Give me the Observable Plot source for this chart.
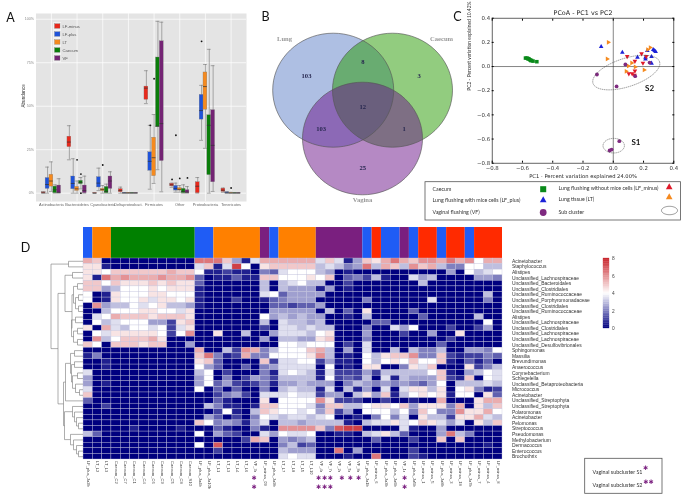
<!DOCTYPE html>
<html>
<head>
<meta charset="utf-8">
<script src="https://cdn.jsdelivr.net/npm/d3@7"></script>
<script src="https://cdn.jsdelivr.net/npm/@observablehq/plot@0.6"></script>
<style>
html,body{margin:0;padding:0;background:#fff;}
#root{position:relative;width:685px;height:502px;overflow:hidden;filter:blur(0.3px);}
#root svg{position:absolute;overflow:visible;background:transparent;}
</style>
</head>
<body>
<div id="root"></div>
<script>
// ---------- Panel A: box plots ----------
const boxGroups = ["LF-minus","LF-plus","LT","Caecum","VF"];
const boxColors = ["#e8291c","#1f53d9","#f58a1f","#0a7d0a","#742474"];
const phyla = ["Actinobacteria","Bacteroidetes","Cyanobacteria","Deltaproteobact.","Firmicutes","Other","Proteobacteria","Tenericutes"];
// each row: [low whisker, q1, median, q3, high whisker], one row per group
const actinobacteria = [[0,0,0.2,0.5,0.8],[0,2.5,5,8.7,15],[1,3.8,7,10.6,18],[0,0,2,3.8,4.8],[0,0,0.5,4.4,8.3]];
const bacteroidetes = [[19.2,26.5,29.4,32.5,38.8],[0,2.3,5.6,9.6,19.8],[0,1.3,2.5,3.6,7],[2.5,5.2,6.2,7.1,9],[0,0,1.5,4.4,9.8]];
const cyanobacteria = [[0,0,0,0.2,0.3],[1.5,3.3,5.8,9.2,14.4],[0,1.2,2.1,2.5,4.4],[0,0,1,3.6,5.2],[0,2.5,7,9.6,12.3]];
const deltaproteobact = [[0,0.6,1.5,2.3,3.5],[0,0,0.1,0.2,0.4],[0,0,0.1,0.2,0.4],[0,0,0.1,0.2,0.3],[0,0,0.1,0.2,0.3]];
const firmicutes = [[51.5,53.7,60.4,61.3,70.4],[2.3,12.9,18.3,23.5,39],[5.6,9.8,20.4,31.9,45.2],[13.5,38,38.5,78,98.8],[0.8,18.5,40,87.3,98.3]];
const other = [[3.4,4,4.8,5.4,5.8],[0.6,1.5,2.8,4.2,5.8],[0.6,1.5,2.2,2.9,4.4],[0,0,1,2.5,4.8],[0,0,0.6,1.7,3.8]];
const proteobacteria = [[0,0,4,6.3,9],[30.4,42.3,47.5,56.5,62],[25.8,48,61.3,69.4,74],[0,10.4,39,44.8,82.7],[1,6.3,27.5,47.7,73.3]];
const tenericutes = [[0.5,0.8,1.7,2.6,3],[0,0,0.2,0.5,0.8],[0,0,0.1,0.3,0.5],[0,0,0.1,0.2,0.3],[0,0,0.1,0.2,0.3]];
const boxValues = [actinobacteria,bacteroidetes,cyanobacteria,deltaproteobact,firmicutes,other,proteobacteria,tenericutes];
// [phylum index, group index, value]
const boxOutliers = [[1,2,19.2],[1,3,11],[1,3,0],[2,2,16.2],[4,1,39],[4,2,65.8],[5,0,7.9],[5,1,33.3],[5,2,8.5],[5,4,8.8],[6,1,87.3],[7,2,3]];
const yPercentTicks = [0,25,50,75,100];

// ---------- Panel B: Venn ----------
const vennSets = ["Lung","Caecum","Vagina"];
const vennCounts = ["103","8","3","12","103","1","25"];

// ---------- Panel C: PCoA ----------
const caecumPts = [[-.58,.07],[-.57,.07],[-.565,.065],[-.56,.065],[-.555,.06],[-.55,.055],[-.545,.05],[-.54,.05],[-.53,.045],[-.505,.04]];
const lfPlusPts = [[-.08,.168],[.06,.12],[.16,.08],[.213,.066],[.264,.143],[.273,.135],[.28,.127],[.253,.085],[.253,.03],[.213,.08],[.225,.135]];
const ltPts = [[-.03,.2],[-.037,.063],[.247,.157],[.088,-.04],[.103,.005],[.125,.03],[.148,-.003],[.207,-.028],[.23,.14]];
const lfMinusPts = [[.092,.08],[.143,.04],[.187,.102],[.218,.08],[.196,.025],[.143,-.04],[.125,-.063],[.14,-.075],[.103,-.063]];
const vfPts = [[-.108,-.066],[.022,-.165],[.08,.017],[.145,-.08],[.24,.033],[.04,-.618],[-.024,-.695],[-.011,-.687]];
const pcTicks = [-.8,-.6,-.4,-.2,0,.2,.4];

// ---------- Panel D: heat map ----------
const rowLabels = ["Acinetobacter","Staphylococcus","Alistipes","Unclassified_Lachnospiraceae","Unclassified_Bacteroidales","Unclassified_Clostridiales","Unclassified_Ruminococcaceae","Unclassified_Porphyromonadaceae","Unclassified_Clostridiales","Unclassified_Ruminococcaceae","Alistipes","Unclassified_Lachnospiraceae","Unclassified_Clostridiales","Unclassified_Lachnospiraceae","Unclassified_Lachnospiraceae","Unclassified_Desulfovibrionales","Sphingomonas","Massilia","Brevundimonas","Anaerococcus","Corynebacterium","Schlegelella","Unclassified_Betaproteobacteria","Micrococcus","Acinetobacter","Unclassified_Streptophyta","Unclassified_Streptophyta","Polaromonas","Acinetobacter","Pelomonas","Streptococcus","Pseudomonas","Methylobacterium","Dermacoccus","Enterococcus","Brochothrix"];
const colLabels = ["LF_plus_Ja2b","LT_L2","LT_L3","Caecum_C2","Caecum_C7","Caecum_C1","Caecum_C4","Caecum_C6","Caecum_C9","Caecum_C5","Caecum_C8","Caecum_S10","LF_plus_Ja4b","LF_plus_Ja10b","LT_L1","LT_L3","LT_L4","LT_L6","VF_3r","LF_minus_09","LF_plus_Ja9b","LT_L7","LT_L8","LT_L5","LT_L10","VF_4r","VF_7r","VF_2r","VF_5r","VF_8r","LF_plus_Ja1b","LF_minus_6","LF_plus_Ja3b","LF_plus_Ja6b","VF_1r","LF_plus_Ja5b","LF_minus_1","LF_minus_5","LF_plus_Ja8b","LF_minus_3","LF_minus_18","LF_plus_Ja7b","LF_minus_7","LF_minus_4","LF_minus_8"];
const groupRuns = [["LF_plus",1],["LT",2],["Caecum",9],["LF_plus",2],["LT",5],["VF",1],["LF_plus",1],["LT",4],["VF",5],["LF_plus",1],["LF_minus",1],["LF_plus",2],["VF",1],["LF_plus",1],["LF_minus",2],["LF_plus",1],["LF_minus",2],["LF_plus",1],["LF_minus",3]];
const groupDomain = ["LF_plus","LT","Caecum","VF","LF_minus"];
const groupRange = ["#1f5cf5","#ff8000","#008000","#7a1f7f","#ff2a00"];
// one character per column, half units: 0=0 ... 8=4 ... g=8
const heatRows = [
"ba0 000000000 ddda517 bb bbbb 7a715 a9bdbaccbdbc8bb",
"991 000000000 7a17f80 9a aaaa 67645 d6ba6cab6448866",
"998 aaaaaabaa 8112110 43 7888 65010 000000000508678",
"91d bcbbbcbbc 3011311 aa 8889 8a034 261007560000554",
"aa8 a999a9a99 3000000 60 6786 60020 000000600000000",
"aa5 688898999 1000000 60 6555 15010 000000000000000",
"801 988899888 1000000 78 3555 50000 000000000000060",
"801 988979989 1000200 13 4555 00000 400000070000040",
"0c5 668789665 1000000 03 3233 50000 000000000000000",
"006 888998879 0000000 05 5555 06030 900003000000000",
"078 baaa9aaa9 0000000 85 6565 50010 600000300000600",
"086 78885529a 0000000 60 7665 60000 033000000000080",
"90b 768878279 0000000 20 7767 66000 400758000200250",
"087 99999828c 0090060 05 7776 89000 500020050090000",
"0c6 8aaab9000 0000000 50 6655 9a000 400000000200000",
"a80 aaa9aa005 0000000 00 8878 88020 700000003000000",
"000 000000000 b0062cb 46 888a b6050 700606446005548",
"140 000000000 ad412b4 48 8889 c6010 869aac44a212243",
"001 000000000 9a30000 a2 7788 25110 86898a88a103130",
"001 000000000 8530030 45 7777 08010 9900497a0009246",
"700 000000000 6802000 41 7876 17222 52666668a105687",
"500 000000000 5804025 42 6666 18232 60716555a21a087",
"501 000000000 5835212 41 5565 55046 545454358066676",
"700 000000000 8030300 40 6766 17061 507079969089412",
"a00 000000000 0024520 77 7877 25506 95a168989188093",
"300 000000000 0031000 90 8888 c9222 00200100b0009bb",
"002 000000000 0641101 aa 8887 4aa66 8998a59994b096a",
"000 000000000 0028106 a9 8878 5a250 888684a844c99b8",
"000 000000000 0530204 87 6776 78001 048470966299b76",
"000 000000000 a845415 70 6656 66610 677978a9757096a",
"000 001000010 0031004 10 cccc a4eff 000071005000000",
"630 000000000 8053200 75 8778 00110 679630005d64000",
"000 000000000 000002b a0 5456 00000 03000200a0a0000",
"000 000000000 80e0000 00 4623 00000 000000000000010",
"000 000000000 0020000 00 6555 00d05 000002000000000",
"000 000000000 0000000 00 7877 00010 0d0002100000000"
];
// dendrogram: [merge position, child, child]; a number is a row index
const dendrogram = [50.5,
  [68,0,1],
  [57.5,
    [64.5,
      [72,2,3],
      [71.5,
        [73,[77,4,5],[75,[78,6,7],[78,8,9]]],
        [71,[75,10,11],[73,[77,12,13],[77,14,15]]]
      ]
    ],
    [63,
      [65,
        [70,[74,16,17],[71,[74,18,19],[72,[77,20,21],[75,22,[79,23,24]]]]],
        25
      ],
      [64,
        [72,26,[74,27,[76,28,[78,29,30]]]],
        [70,31,[73,32,[76,33,[78,34,35]]]]
      ]
    ]
  ]
];
// star columns (fractional column position) and row of stars
const stars = [[18.33,0],[18.33,1],[25.24,0],[25.9,0],[26.5,0],[27.75,0],[28.65,0],[29.54,0],[25.24,1],[25.9,1],[26.5,1],[34.48,0],[34.48,1]];
const colorTicks = [0,2,4,6,8];

// ---------- helpers ----------
const root = document.getElementById("root");
function place(svg,left,top){svg.style.left=left+"px";svg.style.top=top+"px";root.appendChild(svg);}
const SANS="'Liberation Sans',Arial,sans-serif", LATO="Lato,sans-serif", DEJA="'DejaVu Sans',sans-serif", SERIF="'Liberation Serif',serif";
function polySymbol(pts){return {draw(c){pts.forEach((p,i)=>i?c.lineTo(p[0],p[1]):c.moveTo(p[0],p[1]));c.closePath();}};}
function ellipseSymbol(rx,ry,deg){const t=deg*Math.PI/180;const pts=d3.range(0,72).map(i=>{const a=i/72*2*Math.PI;const x=rx*Math.cos(a),y=ry*Math.sin(a);return [x*Math.cos(t)-y*Math.sin(t),x*Math.sin(t)+y*Math.cos(t)];});return polySymbol(pts);}
const triUp=s=>polySymbol([[0,-s],[s,s*.8],[-s,s*.8]]);
const triDown=s=>polySymbol([[0,s],[s,-s*.8],[-s,-s*.8]]);
const triRight=s=>polySymbol([[s,0],[-s*.8,s],[-s*.8,-s]]);

// ---------- Panel A ----------
const boxRows = boxValues.flatMap((rows,p)=>rows.map((v,g)=>({p,g,lo:v[0],q1:v[1],med:v[2],q3:v[3],hi:v[4]})));
const off = g => (g-2)*0.15;
const hw = 0.075;
const outlierRows = boxOutliers.map(([p,g,v])=>({p,g,v}));
place(Plot.plot({
  width:250,height:210,marginLeft:35.5,marginRight:4,marginTop:13,marginBottom:9,
  style:{fontFamily:SANS},
  x:{domain:[-0.6,7.6],axis:null},
  y:{domain:[-4.77,103.3],axis:null},
  color:{domain:boxGroups,range:boxColors},
  marks:[
    Plot.frame({fill:"#e4e4e4",stroke:null}),
    Plot.ruleY(yPercentTicks,{stroke:"#fff",strokeWidth:.7}),
    Plot.ruleX(d3.range(phyla.length),{stroke:"#fff",strokeWidth:.7}),
    Plot.ruleX(boxRows,{x:d=>d.p+off(d.g),y1:"lo",y2:"hi",stroke:"#777",strokeWidth:.6}),
    Plot.ruleY(boxRows,{y:"hi",x1:d=>d.p+off(d.g)-hw,x2:d=>d.p+off(d.g)+hw,stroke:"#777",strokeWidth:.6}),
    Plot.ruleY(boxRows,{y:"lo",x1:d=>d.p+off(d.g)-hw,x2:d=>d.p+off(d.g)+hw,stroke:"#777",strokeWidth:.6}),
    Plot.rect(boxRows,{x1:d=>d.p+off(d.g)-hw,x2:d=>d.p+off(d.g)+hw,y1:"q1",y2:"q3",fill:d=>boxGroups[d.g],stroke:"#777",strokeWidth:.3}),
    Plot.ruleY(boxRows,{y:"med",x1:d=>d.p+off(d.g)-hw,x2:d=>d.p+off(d.g)+hw,stroke:"#333",strokeWidth:.7}),
    Plot.dot(outlierRows,{x:d=>d.p+off(d.g),y:"v",r:.9,fill:"#111"}),
    Plot.axisX({anchor:"bottom",ticks:d3.range(phyla.length),tickFormat:i=>phyla[i],tickSize:0,tickPadding:2,fontSize:3.9,fill:"#666",label:null}),
    Plot.axisY({anchor:"left",ticks:yPercentTicks,tickFormat:d=>d+"%",tickSize:0,tickPadding:2,fontSize:3.6,fill:"#888",label:null}),
    Plot.text(["Abundance"],{frameAnchor:"left",dx:-12,rotate:-90,fontSize:4.6,fill:"#333"})
  ]
}),0,0);

// ---------- Panel C ----------
const xy = a => a.map(([x,y])=>({x,y}));
place(Plot.plot({
  width:255,height:182,marginLeft:61.7,marginRight:11.7,marginTop:17.7,marginBottom:19.3,
  style:{fontFamily:DEJA},
  x:{domain:[-.8,.4],axis:null},
  y:{domain:[-.8,.4],axis:null},
  marks:[
    Plot.ruleX([0],{stroke:"#333",strokeWidth:.6}),
    Plot.ruleY([0],{stroke:"#333",strokeWidth:.6}),
    Plot.frame({stroke:"#222",strokeWidth:.7}),
    Plot.axisX({anchor:"bottom",ticks:pcTicks,tickFormat:d3.format(".1f"),tickSize:-2,tickPadding:5,fontSize:5.4,fill:"#333",label:null}),
    Plot.axisY({anchor:"left",ticks:pcTicks,tickFormat:d3.format(".1f"),tickSize:-2,tickPadding:4,fontSize:5.4,fill:"#333",label:null}),
    Plot.axisX({anchor:"top",ticks:pcTicks,tickFormat:()=>"",tickSize:-2,label:null}),
    Plot.axisY({anchor:"right",ticks:pcTicks,tickFormat:()=>"",tickSize:-2,label:null}),
    Plot.dot(xy(caecumPts),{x:"x",y:"y",symbol:"square",r:2,fill:"#0a8a1a"}),
    Plot.dot(xy(lfPlusPts),{x:"x",y:"y",symbol:triUp(2.3),fill:"#1c22d8"}),
    Plot.dot(xy(ltPts),{x:"x",y:"y",symbol:triRight(2.3),fill:"#f58a1f"}),
    Plot.dot(xy(lfMinusPts),{x:"x",y:"y",symbol:triDown(2.3),fill:"#e01a2a"}),
    Plot.dot(xy(vfPts),{x:"x",y:"y",r:1.9,fill:"#7f2a80"}),
    Plot.dot([{x:.086,y:-.05}],{x:"x",y:"y",symbol:ellipseSymbol(35,14.2,-18),fill:"none",stroke:"#444",strokeWidth:.5,strokeDasharray:"1.6,.6"}),
    Plot.dot([{x:.003,y:-.655}],{x:"x",y:"y",symbol:ellipseSymbol(10.7,7.3,0),fill:"none",stroke:"#444",strokeWidth:.5,strokeDasharray:"1.6,.6"}),
    Plot.text(["PCoA - PC1 vs PC2"],{frameAnchor:"top",dy:-8,fontSize:6.4,fill:"#222"}),
    Plot.text(["PC1 - Percent variation explained 24.00%"],{frameAnchor:"bottom",dy:14.5,fontSize:5.2,fill:"#222"}),
    Plot.text(["PC2 - Percent variation explained 10.42%"],{frameAnchor:"left",dx:-23,rotate:-90,fontSize:4.9,fontFamily:LATO,fill:"#333"}),
    Plot.text([{x:.24,y:-.18,t:"S2"},{x:.15,y:-.63,t:"S1"}],{x:"x",y:"y",text:"t",fontSize:8,fontWeight:"bold",fontFamily:LATO,fill:"#111"})
  ]
}),430,0);

// ---------- Panel D: colour bar, heat map, dendrogram ----------
let runStart = 0;
const groupBars = groupRuns.map(([g,n])=>{const b={g,start:runStart,end:runStart+n};runStart+=n;return b;});
heatRows.forEach((r,i)=>{if(r.replace(/ /g,"").length!==45) throw new Error("row "+i+" has "+r.replace(/ /g,"").length);});
const heatCells = heatRows.flatMap((r,row)=>Array.from(r.replace(/ /g,""),(c,col)=>({row,col,v:parseInt(c,17)/2})));
const heatColor = {type:"linear",domain:[0,4,8],range:["#00007f","#ffffff","#c8232a"]};

place(Plot.plot({
  width:419,height:31,margin:0,
  x:{domain:[0,45],axis:null},
  y:{domain:[0,1],axis:null},
  color:{domain:groupDomain,range:groupRange},
  marks:[Plot.rect(groupBars,{x1:"start",x2:"end",y1:()=>0,y2:()=>1,fill:"g"})]
}),83.3,227.3);

place(Plot.plot({
  width:519,height:231,marginLeft:0,marginRight:100,marginTop:0,marginBottom:30,
  style:{fontFamily:SANS},
  x:{domain:d3.range(45),padding:0,round:false,axis:null},
  y:{domain:d3.range(36),padding:0,round:false,axis:null},
  color:heatColor,
  marks:[
    Plot.cell(heatCells,{x:"col",y:"row",fill:"v",stroke:"#c4c4dc",strokeWidth:.35}),
    Plot.axisX({anchor:"bottom",ticks:d3.range(45),tickFormat:i=>colLabels[i],tickRotate:90,tickSize:0,tickPadding:1.5,fontSize:4.1,fill:"#444",label:null}),
    Plot.axisY({anchor:"right",ticks:d3.range(36),tickFormat:i=>rowLabels[i],tickSize:0,tickPadding:9.4,fontSize:4.95,fill:"#333",label:null})
  ]
}),83.3,258.3);

const dendroSegs = [];
(function walk(n){
  if(typeof n==="number") return {y:n+.5,h:82.5};
  const a=walk(n[1]),b=walk(n[2]),h=n[0];
  dendroSegs.push({x1:h,y1:a.y,x2:a.h,y2:a.y},{x1:h,y1:b.y,x2:b.h,y2:b.y},{x1:h,y1:a.y,x2:h,y2:b.y});
  return {y:(a.y+b.y)/2,h};
})(dendrogram);
place(Plot.plot({
  width:33,height:201,margin:0,
  x:{domain:[50,83],axis:null},
  y:{domain:[36,0],axis:null},
  marks:[Plot.link(dendroSegs,{x1:"x1",y1:"y1",x2:"x2",y2:"y2",stroke:"#777",strokeWidth:.6})]
}),50,258.3);

place(Plot.plot({
  width:419,height:18,margin:0,
  style:{fontFamily:DEJA},
  x:{domain:[0,45],axis:null},
  y:{domain:[-.5,1.5],reverse:true,axis:null},
  marks:[Plot.text(stars,{x:d=>d[0],y:d=>d[1],text:()=>"\u2731",fontSize:6.2,fill:"#7a1f7f"})]
}),83.3,473);

const rampSteps = d3.range(0,8,.2);
place(Plot.plot({
  width:26,height:70,marginLeft:0,marginRight:20,marginTop:0,marginBottom:0,
  style:{fontFamily:SANS},
  x:{domain:[0,1],axis:null},
  y:{domain:[0,8],axis:null},
  color:heatColor,
  marks:[
    Plot.rect(rampSteps,{x1:()=>0,x2:()=>1,y1:d=>d,y2:d=>d+.2,fill:d=>d+.1,stroke:d=>d+.1,strokeWidth:.3}),
    Plot.axisY({anchor:"right",ticks:colorTicks,tickSize:0,tickPadding:2.5,fontSize:4.8,fill:"#444",label:null})
  ]
}),602.7,258.3);

// ---------- Page layer: panel letters, Venn, legends ----------
const pageX={domain:[0,685],axis:null}, pageY={domain:[0,502],axis:null};
const letters=[{t:"A",x:10,y:17},{t:"B",x:265,y:16},{t:"C",x:457,y:16},{t:"D",x:25,y:247}];
const vennShapes=[
  {x:332.7,y:89.7,rx:60.5,ry:57,c:"#5d7fc7",o:.5},
  {x:392,y:89.7,rx:60,ry:57,c:"#259900",o:.5},
  {x:362,y:138,rx:60,ry:56.3,c:"#6b1389",o:.5}
];
const vennNumPos=[[306,75.7],[362.3,61],[418.7,75.7],[362.3,106],[320.7,128.7],[403.7,128.7],[362.3,167.3]];
const vennNamePos=[[284,38],[441,38],[362,199]];
const legendA=boxGroups.map((t,i)=>({t,i,y:26+i*8}));
place(Plot.plot({
  width:685,height:502,margin:0,
  x:pageX,y:{...pageY,reverse:true},
  style:{fontFamily:LATO},
  marks:[
    Plot.text(letters,{x:"x",y:"y",text:"t",fontSize:12.5,fill:"#111"}),
    // A legend
    Plot.rect([{}],{x1:()=>53,x2:()=>61,y1:()=>22,y2:()=>62,fill:"#f2f2f2"}),
    Plot.rect(legendA,{x1:()=>54.5,x2:()=>60,y1:d=>d.y-2.3,y2:d=>d.y+2.3,fill:d=>boxColors[d.i],stroke:"#777",strokeWidth:.3}),
    Plot.text(legendA,{x:()=>62,y:"y",text:"t",textAnchor:"start",fontSize:4.2,fontFamily:SANS,fill:"#555"}),
    // B Venn: fills, then outlines on top
    ...vennShapes.map(s=>Plot.dot([s],{x:"x",y:"y",symbol:ellipseSymbol(s.rx,s.ry,0),fill:s.c,fillOpacity:s.o})),
    ...vennShapes.map(s=>Plot.dot([s],{x:"x",y:"y",symbol:ellipseSymbol(s.rx,s.ry,0),fill:"none",stroke:"#555",strokeOpacity:.8,strokeWidth:.8})),
    Plot.text(vennCounts,{x:(d,i)=>vennNumPos[i][0],y:(d,i)=>vennNumPos[i][1],text:d=>d,fontFamily:SERIF,fontWeight:"bold",fontSize:6.6,fill:"#26264f"}),
    Plot.text(vennSets,{x:(d,i)=>vennNamePos[i][0],y:(d,i)=>vennNamePos[i][1],text:d=>d,fontFamily:SERIF,fontWeight:"bold",fontSize:6.6,fill:"#999"}),
    // C legend
    Plot.rect([{}],{x1:()=>425,x2:()=>680.5,y1:()=>181.7,y2:()=>220,fill:"#fff",stroke:"#555",strokeWidth:.8}),
    Plot.text([{t:"Caecum",y:188.7},{t:"Lung flushing with mice cells (LF_plus)",y:200},{t:"Vaginal flushing (VF)",y:212}],{x:()=>432,y:"y",text:"t",textAnchor:"start",fontSize:5.3,fill:"#333"}),
    Plot.text([{t:"Lung flushing without mice cells (LF_minus)",y:188},{t:"Lung tissue (LT)",y:199},{t:"Sub cluster",y:212}],{x:()=>558,y:"y",text:"t",textAnchor:"start",fontSize:5.3,fill:"#333"}),
    Plot.dot([{x:542.7,y:188.7}],{x:"x",y:"y",symbol:"square",r:3.4,fill:"#0a8a1a"}),
    Plot.dot([{x:542.7,y:199}],{x:"x",y:"y",symbol:triUp(3.3),fill:"#1c22d8"}),
    Plot.dot([{x:542.7,y:212}],{x:"x",y:"y",r:3.4,fill:"#7f2a80"}),
    Plot.dot([{x:668.7,y:186}],{x:"x",y:"y",symbol:triUp(3.3),fill:"#e01a2a"}),
    Plot.dot([{x:668.7,y:196}],{x:"x",y:"y",symbol:triUp(3.3),fill:"#f58a1f"}),
    Plot.dot([{x:669,y:210}],{x:"x",y:"y",symbol:ellipseSymbol(8,4.2,0),fill:"none",stroke:"#333",strokeWidth:.5}),
    // D key
    Plot.rect([{}],{x1:()=>584.7,x2:()=>662,y1:()=>458.3,y2:()=>493.3,fill:"#fff",stroke:"#555",strokeWidth:.8}),
    Plot.text([{t:"Vaginal subcluster S1",y:471.7},{t:"Vaginal subcluster S2",y:485}],{x:()=>592,y:"y",text:"t",textAnchor:"start",fontSize:5.4,fill:"#333"}),
    Plot.text([{t:"\u2731",x:645,y:468},{t:"\u2731\u2731",x:648,y:481.7}],{x:"x",y:"y",text:"t",fontFamily:DEJA,fontSize:6.2,fill:"#7a1f7f"})
  ]
}),0,0);
</script>
</body>
</html>
